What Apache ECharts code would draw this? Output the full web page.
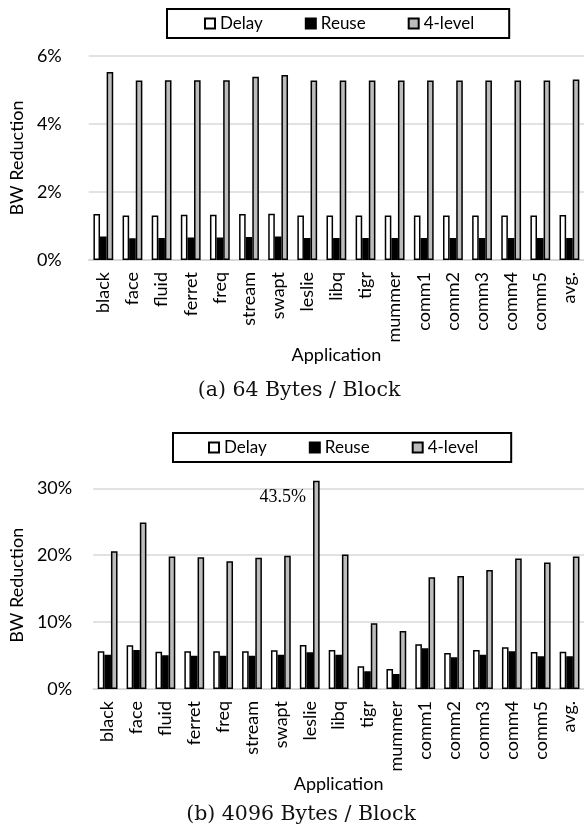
<!DOCTYPE html>
<html><head><meta charset="utf-8">
<script src="https://cdn.jsdelivr.net/npm/echarts@6/dist/echarts.min.js"></script>
<style>html,body{margin:0;padding:0;background:#fff}#c{width:584px;height:829px}</style>
</head><body><div id="c"></div>
<script>
// ---- data ----
const categories = ['black','face','fluid','ferret','freq','stream','swapt','leslie','libq','tigr','mummer','comm1','comm2','comm3','comm4','comm5','avg.'];
const seriesNames = ['Delay','Reuse','4-level'];
const delay64 = [1.35,1.31,1.31,1.33,1.33,1.35,1.36,1.31,1.31,1.31,1.31,1.31,1.31,1.31,1.31,1.31,1.32];
const reuse64 = [0.69,0.64,0.65,0.66,0.66,0.68,0.69,0.65,0.65,0.65,0.65,0.65,0.65,0.65,0.65,0.65,0.65];
const level64 = [5.53,5.28,5.29,5.29,5.29,5.39,5.44,5.28,5.28,5.28,5.28,5.28,5.28,5.28,5.28,5.28,5.31];
const delay4096 = [5.63,6.53,5.58,5.63,5.63,5.63,5.78,6.58,5.83,3.39,2.99,6.68,5.38,5.83,6.23,5.53,5.58];
const reuse4096 = [5.13,5.83,5.03,4.98,4.98,4.98,5.13,5.48,5.13,2.64,2.24,6.08,4.73,5.13,5.63,4.88,4.88];
const level4096 = [20.6,24.9,19.8,19.7,19.1,19.6,19.9,43.5,20.1,9.82,8.67,16.7,16.9,17.8,19.5,18.9,19.8];
const yTicks64 = [0,2,4,6];
const yTicks4096 = [0,10,20,30];
const yMax4096 = 31;
const captions = ['(a) 64 Bytes / Block','(b) 4096 Bytes / Block'];
const xTitle = 'Application';
const yTitle = 'BW Reduction';

// ---- chart ----
const FONT = 'Lato, "Open Sans", sans-serif';
const colors = ['#ffffff','#000000','#bcbcbc'];
const chart = echarts.init(document.getElementById('c'), null, {renderer:'canvas'});

function xAxis(gi, gap){
  return {gridIndex:gi, type:'category', data:categories,
    axisLine:{lineStyle:{color:'#d4d4d4', width:1.5}}, axisTick:{show:false},
    axisLabel:{rotate:90, margin:12, fontFamily:FONT, fontSize:18, color:'#000', interval:0},
    name:xTitle, nameLocation:'middle', nameGap:gap,
    nameTextStyle:{fontFamily:FONT, fontSize:18, color:'#000'}};
}
function yAxis(gi, ticks, max, margin, gap){
  const full = max === ticks[ticks.length-1];
  return {gridIndex:gi, type:'value', min:ticks[0], max:max, interval:ticks[1]-ticks[0],
    axisLine:{show:false}, axisTick:{show:false},
    axisLabel:{formatter:'{value}%', margin:margin, fontFamily:FONT, fontSize:18, color:'#000', showMaxLabel:full},
    splitLine:{lineStyle:{color:'#d9d9d9', width:1.5}, showMaxLine:full},
    name:yTitle, nameLocation:'middle', nameGap:gap,
    nameTextStyle:{fontFamily:FONT, fontSize:18, color:'#000'}};
}
function bars(gi, name, vals, color, max){
  return {name, type:'bar', xAxisIndex:gi, yAxisIndex:gi, barWidth:6.6, barGap:'0%',
    itemStyle:{color, borderColor:'#000', borderWidth:1.5}, emphasis:{disabled:true},
    data: vals.map(v => (max!==undefined && v > max) ? {value:v, label:{show:true, position:[-7,16], align:'right', verticalAlign:'middle',
      formatter: v + '%', fontFamily:'"Liberation Serif", serif', fontSize:18, color:'#000'}} : v)};
}
function legend(top, left, padL, padR){
  return {data:seriesNames, top, left, orient:'horizontal', itemWidth:10, itemHeight:10, itemGap:42,
    icon:'rect', selectedMode:false, borderColor:'#000', borderWidth:2, borderRadius:0,
    padding:[6, padR, 6, padL], textStyle:{fontFamily:FONT, fontSize:17, color:'#000'}};
}

chart.setOption({
  animation:false,
  backgroundColor:'#fff',
  title:[
    {text:captions[0], left:299, top:380, textAlign:'center', padding:0,
     textStyle:{fontFamily:'"DejaVu Serif", serif', fontWeight:'normal', fontSize:20.5, color:'#111'}},
    {text:captions[1], left:301, top:804, textAlign:'center', padding:0,
     textStyle:{fontFamily:'"DejaVu Serif", serif', fontWeight:'normal', fontSize:20.5, color:'#111'}}
  ],
  legend:[legend(9, 167, 37, 35), legend(433, 173, 35, 33)],
  grid:[
    {left:77, top:56, width:511, height:204, containLabel:false},
    {left:82, top:481.6, width:511, height:207.4, containLabel:false}
  ],
  xAxis:[xAxis(0, 85), xAxis(1, 81)],
  yAxis:[yAxis(0, yTicks64, yTicks64[yTicks64.length-1], 27, 48), yAxis(1, yTicks4096, yMax4096, 21, 55)],
  series:[
    bars(0, seriesNames[0], delay64, colors[0]),
    bars(0, seriesNames[1], reuse64, colors[1]),
    bars(0, seriesNames[2], level64, colors[2]),
    bars(1, seriesNames[0], delay4096, colors[0]),
    bars(1, seriesNames[1], reuse4096, colors[1]),
    bars(1, seriesNames[2], level4096, colors[2], yMax4096)
  ]
});
</script></body></html>
